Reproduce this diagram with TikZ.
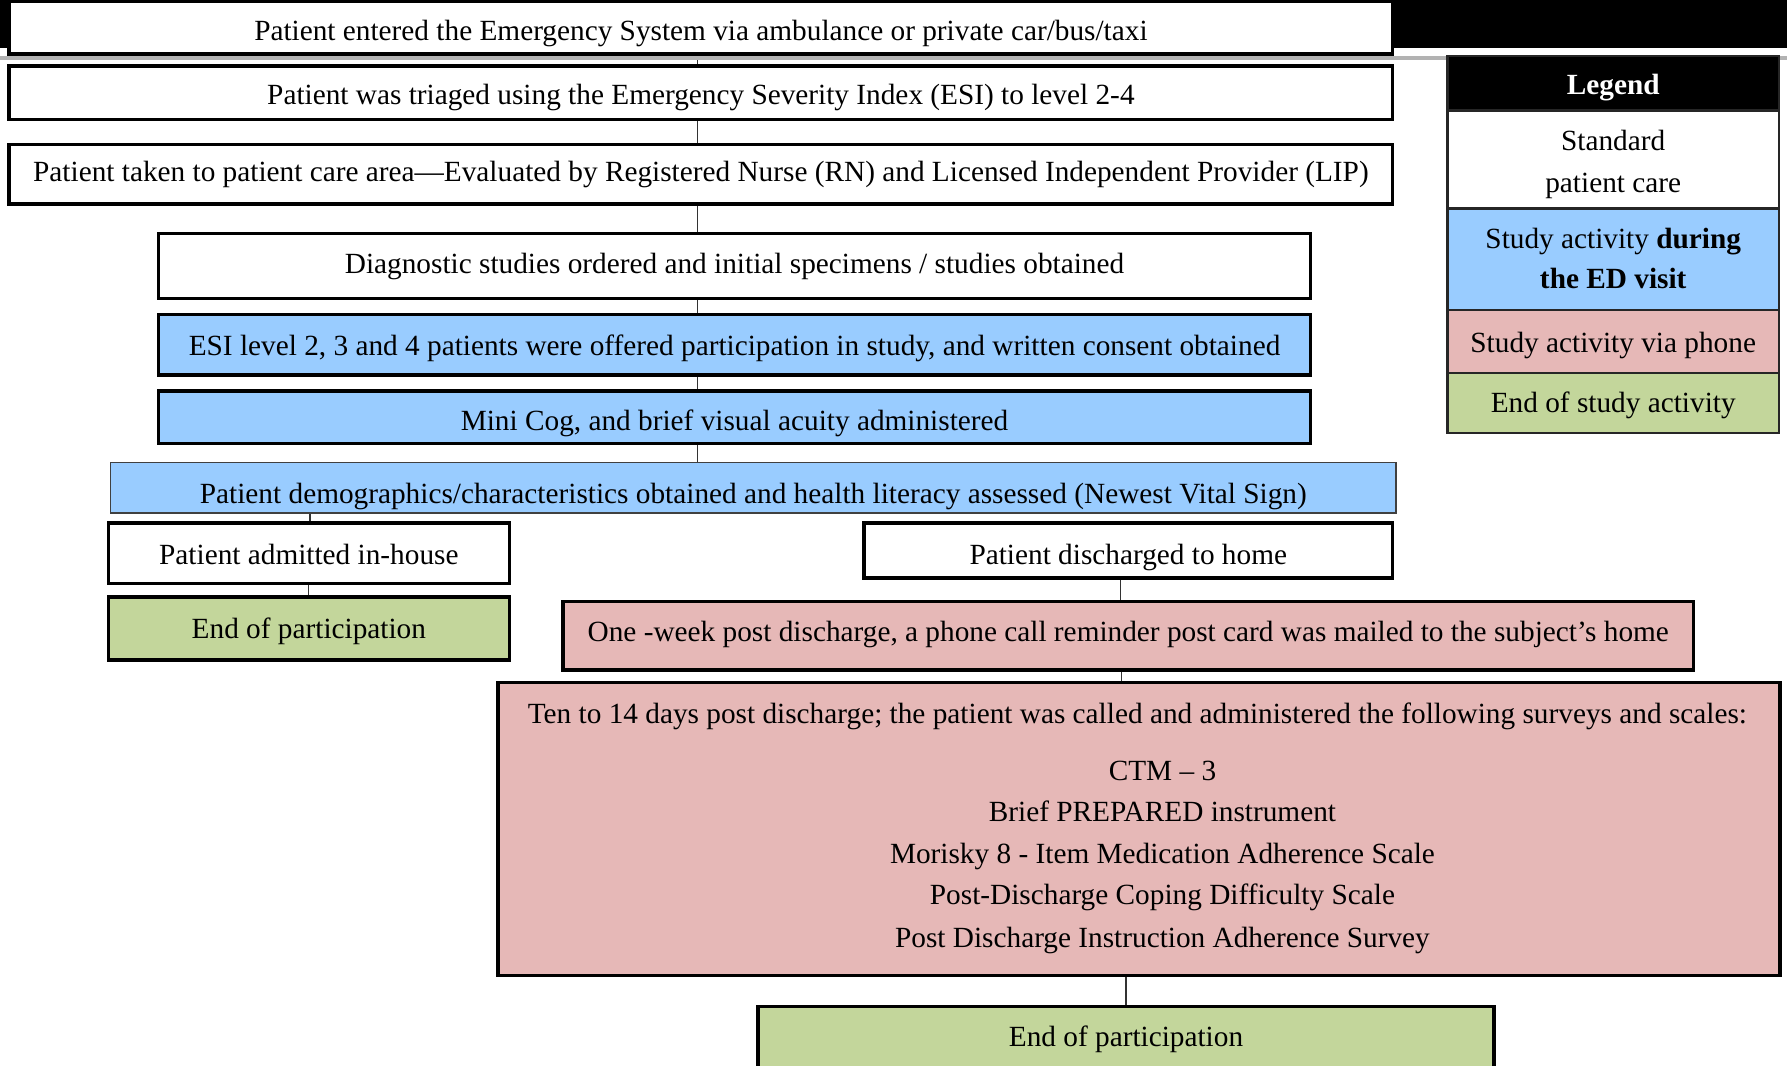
\documentclass[tikz,border=0pt]{standalone}
\usepackage{fontspec}
\setmainfont{Liberation Serif}
\usetikzlibrary{backgrounds}
\definecolor{sblue}{HTML}{99CCFF}
\definecolor{spink}{HTML}{E6B8B7}
\definecolor{sgreen}{HTML}{C3D69B}
\begin{document}
\begin{tikzpicture}[x=1pt,y=-1pt,
  txt/.style={font=\fontsize{25.7}{31}\selectfont, inner sep=0pt, text height=21pt, text depth=5pt},
  box/.style={txt, draw=black, line width=3pt},
  thinbox/.style={txt, draw=black!75, line width=1.2pt},
  legbox/.style={draw=black!85, line width=2pt, minimum width=291pt, inner sep=0pt},
  conn/.style={line width=1pt, black!80}]
\useasboundingbox (0,0) rectangle (1568,935);
\clip (0,0) rectangle (1568,935);

% top decoration
\fill[black] (0,0) rectangle (1568,42);
\fill[gray!60] (0,49.5) rectangle (1568,53);

% main column
\node[box, fill=white, minimum width=1214pt, minimum height=46pt, text height=27pt] (b1) at (615,24.5)
  {Patient entered the Emergency System via ambulance or private car/bus/taxi};
\node[box, fill=white, minimum width=1214pt, minimum height=47pt, text height=25pt] (b2) at (615,81.5)
  {Patient was triaged using the Emergency Severity Index (ESI) to level 2-4};
\node[box, fill=white, minimum width=1214pt, minimum height=52pt, text height=18pt] (b3) at (615,153)
  {Patient taken to patient care area—Evaluated by Registered Nurse (RN) and Licensed Independent Provider (LIP)};
\node[box, fill=white, minimum width=1011pt, minimum height=57pt, text height=18pt] (b4) at (644.5,233.5)
  {Diagnostic studies ordered and initial specimens / studies obtained};
\node[box, fill=sblue, minimum width=1011pt, minimum height=53pt, text height=23pt] (b5) at (644.5,302.5)
  {ESI level 2, 3 and 4 patients were offered participation in study, and written consent obtained};
\node[box, fill=sblue, minimum width=1011pt, minimum height=46pt, text height=29pt] (b6) at (644.5,366)
  {Mini Cog, and brief visual acuity administered};
\node[thinbox, fill=sblue, minimum width=1128pt, minimum height=44pt, text height=33pt] (b7) at (661,428)
  {Patient demographics/characteristics obtained and health literacy assessed (Newest Vital Sign)};

% admitted branch
\node[box, fill=white, minimum width=352pt, minimum height=53pt, text height=25pt] (b8) at (271,485.5)
  {Patient admitted in-house};
\node[box, fill=sgreen, minimum width=352pt, minimum height=55pt, text height=23pt] (b9) at (271,551.5)
  {End of participation};

% discharged branch
\node[box, fill=white, minimum width=464pt, minimum height=48pt, text height=30pt] (b10) at (990,483)
  {Patient discharged to home};
\node[box, fill=spink, minimum width=992pt, minimum height=60pt, text height=15pt] (b11) at (990,558)
  {One -week post discharge, a phone call reminder post card was mailed to the subject’s home};
\node[box, fill=spink, minimum width=1125pt, minimum height=257pt] (b12) at (999.5,727.5) {};
\node[txt, text height=23pt] (t0) at (998,626) {Ten to 14 days post discharge; the patient was called and administered the following surveys and scales:};
\node[txt, text height=23pt] (t1) at (1020,676) {CTM – 3};
\node[txt, text height=23pt] (t2) at (1020,712) {Brief PREPARED instrument};
\node[txt, text height=23pt] (t3) at (1020,749) {Morisky 8 - Item Medication Adherence Scale};
\node[txt, text height=23pt] (t4) at (1020,785) {Post-Discharge Coping Difficulty Scale};
\node[txt, text height=23pt] (t5) at (1020,822) {Post Discharge Instruction Adherence Survey};
\node[box, fill=sgreen, minimum width=646pt, minimum height=70pt, text height=25pt, text depth=25pt] (b13) at (988,918)
  {End of participation};

% legend
\node[legbox, fill=black, minimum height=48pt] (l0) at (1415.5,73) {};
\node[legbox, fill=white, minimum height=86pt] (l1) at (1415.5,140) {};
\node[legbox, fill=sblue, minimum height=89pt] (l2) at (1415.5,227.5) {};
\node[legbox, fill=spink, minimum height=55pt] (l3) at (1415.5,299.5) {};
\node[legbox, fill=sgreen, minimum height=53pt] (l4) at (1415.5,353.5) {};
\node[txt, text=white, font=\fontsize{25.7}{31}\selectfont\bfseries] (lt0) at (l0.center |- 0,75) {Legend};
\node[txt] (lt1a) at (l1.center |- 0,124) {Standard};
\node[txt] (lt1b) at (l1.center |- 0,161) {patient care};
\node[txt] (lt2a) at (l2.center |- 0,210) {Study activity \textbf{during}};
\node[txt] (lt2b) at (l2.center |- 0,245) {\textbf{the ED visit}};
\node[txt] (lt3) at (l3.center |- 0,301) {Study activity via phone};
\node[txt] (lt4) at (l4.center |- 0,354) {End of study activity};

% connectors
\coordinate (sp) at (612,0);
\begin{scope}[on background layer]
\draw[conn] (sp |- b1.south) -- (sp |- b2.north);
\draw[conn] (sp |- b2.south) -- (sp |- b3.north);
\draw[conn] (sp |- b3.south) -- (sp |- b4.north);
\draw[conn] (sp |- b4.south) -- (sp |- b5.north);
\draw[conn] (sp |- b5.south) -- (sp |- b6.north);
\draw[conn] (sp |- b6.south) -- (sp |- b7.north);
\draw[conn] (b8.north -| 272,0) -- (b7.south -| 272,0);
\draw[conn] (b8.south) -- (b9.north);
\draw[conn] (b10.south -| 983,0) -- (b11.north -| 983,0);
\draw[conn] (b11.south -| 984,0) -- (b12.north -| 984,0);
\draw[conn] (b12.south -| b13.north) -- (b13.north);
\end{scope}
\end{tikzpicture}
\end{document}
